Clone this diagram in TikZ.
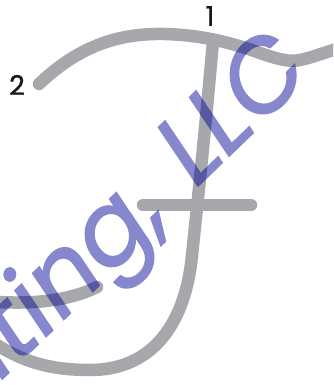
\documentclass[tikz,border=0pt]{standalone}
\usepackage{fontspec}
\setmainfont{Poppins}[FakeBold=1.2]
\newfontfamily\markfont{Poppins}[FakeBold=1.6]
\usetikzlibrary{positioning}
\definecolor{strokegray}{RGB}{167,168,172}
\definecolor{markblue}{RGB}{0,0,150}

\begin{document}
\begin{tikzpicture}[x=1pt, y=-1pt,
  stroke/.style={draw=strokegray, line width=12.5pt, line cap=round},
  num/.style={font=\fontsize{27}{27}\selectfont, text=black!90, inner sep=0pt},
  wmark/.style={font=\markfont\itshape\fontsize{100}{100}\selectfont, text=markblue,
               inner sep=0pt, rotate=44}
]
\useasboundingbox (0,0) rectangle (333,385);
\clip (0,0) rectangle (333,385);

%--- stroke 1: stem down into the loop ---
\draw[stroke] (213,41) .. controls (207,110) and (200,180) .. (192,255)
  .. controls (186,320) and (155,370) .. (90,370)
  .. controls (50,370) and (20,362) .. (-15,337);
\draw[stroke] (-15,301) .. controls (40,306) and (75,298) .. (97,287);

%--- stroke 2: top curve ---
\draw[stroke] (39,84) .. controls (80,45) and (120,33) .. (165,34)
  .. controls (200,35) and (230,42) .. (260,53)
  .. controls (280,60) and (290,62) .. (300,60)
  .. controls (315,57) and (330,50) .. (345,47);

%--- cross bar ---
\draw[stroke] (143,205) -- (251,205);

%--- numbers ---
\node[num] (one) at (210,16) {1};
\node[num] (two) at (17,85) {2};

%--- watermark ---
\begin{scope}[transparency group, opacity=0.47]
  \node[wmark, anchor=base west] (llc) at (196,188) {LLC};
  \node[wmark, anchor=base east] (ting) at (171,216) {riting,};
\end{scope}
\end{tikzpicture}
\end{document}
